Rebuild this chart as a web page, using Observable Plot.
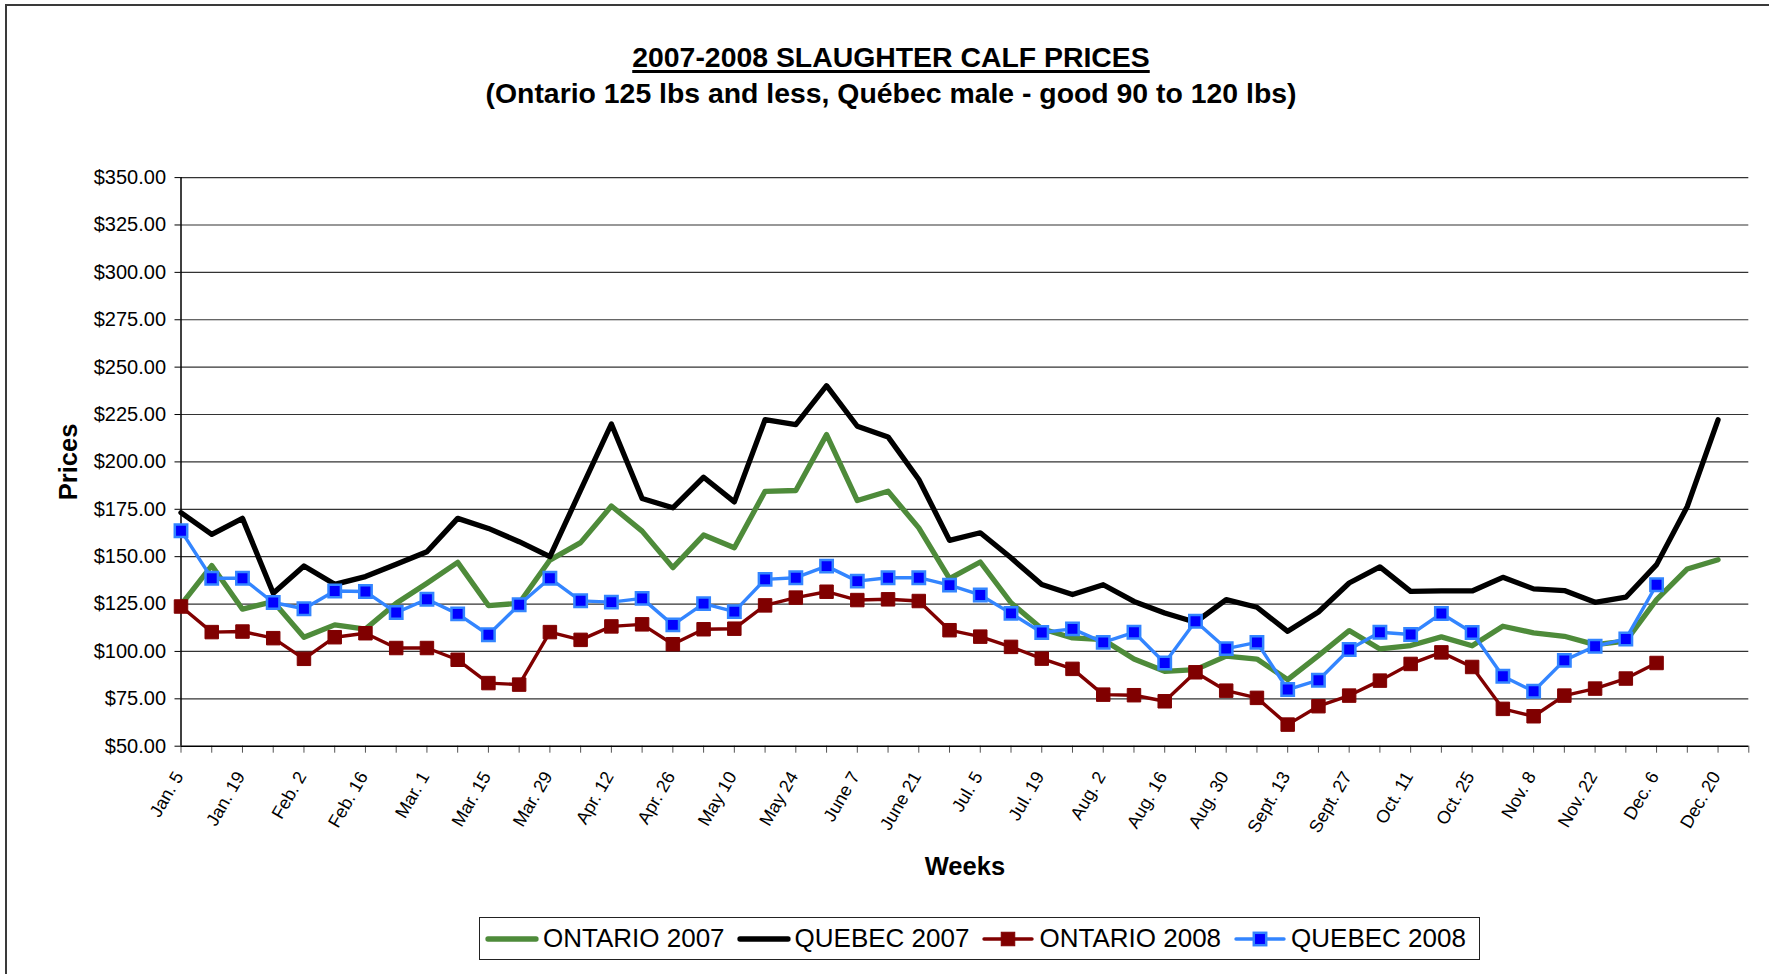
<!DOCTYPE html>
<html>
<head>
<meta charset="utf-8">
<script src="https://cdn.jsdelivr.net/npm/d3@7"></script>
<script src="https://cdn.jsdelivr.net/npm/@observablehq/plot@0.6"></script>
<style>
  body { margin: 0; background: #fff; }
  #chart { position: relative; width: 1769px; height: 974px; overflow: hidden; font-family: "Liberation Sans", Arial, sans-serif; color: #000; }
  #frame { position: absolute; left: 5px; top: 4px; width: 1800px; height: 1000px; border-left: 2px solid #3a3a3a; border-top: 2px solid #3a3a3a; }
  .title { position: absolute; left: 0; width: 1782px; text-align: center; font-weight: bold; font-size: 28.4px; line-height: 28.4px; white-space: nowrap; }
  #t1 { top: 42.7px; text-decoration: underline; text-decoration-thickness: 2.7px; text-underline-offset: 2.5px; }
  #t2 { top: 79px; }
  #plot { position: absolute; left: 0; top: 120px; }
  #legend { position: absolute; left: 479px; top: 917px; width: 1001px; height: 43px; box-sizing: border-box; border: 1.5px solid #222; display: flex; align-items: center; padding-left: 5px; font-size: 26px; white-space: nowrap; background: #fff; }
  .item { display: flex; align-items: center; margin-right: 12px; }
  .item svg { margin-right: 4px; }
</style>
</head>
<body>
<div id="chart">
  <div id="frame"></div>
  <div class="title" id="t1">2007-2008 SLAUGHTER CALF PRICES</div>
  <div class="title" id="t2">(Ontario 125 lbs and less, Québec male - good 90 to 120 lbs)</div>
  <div id="plot"></div>
  <div id="legend"></div>
</div>
<script>
const weeks = ["Jan. 5","Jan. 12","Jan. 19","Jan. 26","Feb. 2","Feb. 9","Feb. 16","Feb. 23",
  "Mar. 1","Mar. 8","Mar. 15","Mar. 22","Mar. 29","Apr. 5","Apr. 12","Apr. 19","Apr. 26",
  "May 3","May 10","May 17","May 24","May 31","June 7","June 14","June 21","June 28",
  "Jul. 5","Jul. 12","Jul. 19","Jul. 26","Aug. 2","Aug. 9","Aug. 16","Aug. 23","Aug. 30",
  "Sept. 6","Sept. 13","Sept. 20","Sept. 27","Oct. 4","Oct. 11","Oct. 18","Oct. 25",
  "Nov. 1","Nov. 8","Nov. 15","Nov. 22","Nov. 29","Dec. 6","Dec. 13","Dec. 20","Dec. 27"];

const ontario2007 = [124.6,145.3,122.3,126.3,107.5,114,111.8,125.4,136,147,124.2,125.4,148.2,157.4,
  176.7,163.5,144.2,161.4,154.7,184.5,184.9,214.4,179.6,184.5,165.2,138.4,147.2,125.7,112,107.1,
  106.2,96,89.5,90.4,97.5,96,85.1,97.8,111,101.3,103.1,107.7,103,113.3,109.8,108,103.6,105.4,
  127.3,143.5,148.4,null];

const quebec2007 = [173.2,161.8,170.2,130.7,145.1,135.4,139.5,146,152.6,170.2,164.9,157.9,150,185.1,
  220,180.7,175.8,191.9,178.9,222.3,219.7,240.2,218.8,213.2,190.7,158.6,162.6,149.4,135.3,130,
  135.2,126.4,120.3,115.4,127.3,123.3,110.6,120.8,136.1,144.6,131.7,131.9,131.9,139.1,133,132.1,
  125.9,128.6,145.8,176.5,222.2,null];

const ontario2008 = [123.7,110.2,110.5,107,96.1,107.5,109.6,101.8,101.8,95.6,83.3,82.5,110.2,106.1,
  113.2,114.3,103.8,111.7,112,124.3,128.4,131.5,127.1,127.5,126.6,111.2,107.8,102.4,96.2,90.8,
  77.2,76.9,73.7,89,79.3,75.5,61.4,71.1,76.7,84.6,93.4,99.5,91.8,69.7,65.8,76.7,80.4,85.7,93.9,
  null,null,null];

const quebec2008 = [163.7,138.6,138.6,125.8,122.5,131.9,131.6,120.5,127.5,119.8,108.8,124.6,138.6,126.7,
  126,128,114,125.2,121,138,138.9,145,137.1,138.9,138.9,135,129.8,120.1,110,111.9,104.8,110.1,
  93.9,115.9,101.5,104.8,79.9,84.8,101,110.1,108.9,120,110,86.9,79,95.3,102.7,106.6,135.2,
  null,null,null];

const priceTicks = [50,75,100,125,150,175,200,225,250,275,300,325,350];
const seriesNames = ["ONTARIO 2007","QUEBEC 2007","ONTARIO 2008","QUEBEC 2008"];
const seriesColors = ["#4e8b3a","#000000","#800000","#3385ff"];
const markerFill = [null, null, "#800000", "#0000ff"];

function rows(values, name) {
  return values.map((v, i) => ({week: weeks[i], price: v, series: name})).filter(d => d.price != null);
}
const dOn07 = rows(ontario2007, seriesNames[0]);
const dQc07 = rows(quebec2007, seriesNames[1]);
const dOn08 = rows(ontario2008, seriesNames[2]);
const dQc08 = rows(quebec2008, seriesNames[3]);

const lineOpts = {x: "week", y: "price", strokeLinejoin: "round", strokeLinecap: "round"};

const chart = Plot.plot({
  width: 1769,
  height: 790,
  marginTop: 57.1,
  marginBottom: 164.3,
  marginLeft: 180.5,
  marginRight: 20.7,
  style: {fontFamily: "'Liberation Sans', Arial, sans-serif", fontSize: "20px", background: "transparent", color: "#000", overflow: "visible"},
  x: {type: "point", domain: weeks, padding: 0},
  y: {domain: [50, 350]},
  marks: [
    Plot.gridY(priceTicks.filter(t => t > 50), {stroke: "#333", strokeOpacity: 1, strokeWidth: 1.2}),
    Plot.axisY(priceTicks, {tickSize: 6, tickPadding: 9, tickFormat: d => "$" + d.toFixed(2), fontSize: 20, stroke: "#000", label: null}),
    Plot.axisX(weeks, {tickSize: 7, stroke: "#555", tickFormat: null, text: null, label: null}),
    Plot.axisX(weeks, {tickSize: 0, tickPadding: 27, tickRotate: -60, fontSize: 18, dx: -2,
      tickFormat: d => weeks.indexOf(d) % 2 === 0 ? d : "", label: null}),
    Plot.ruleY([50], {stroke: "#000", strokeWidth: 1.5}),
    Plot.ruleX([weeks[0]], {stroke: "#000", strokeWidth: 1.5}),
    Plot.line(dOn07, {...lineOpts, stroke: seriesColors[0], strokeWidth: 5.3}),
    Plot.line(dQc07, {...lineOpts, stroke: seriesColors[1], strokeWidth: 5.3}),
    Plot.line(dOn08, {...lineOpts, stroke: seriesColors[2], strokeWidth: 3.4}),
    Plot.dot(dOn08, {x: "week", y: "price", symbol: "square", r: 7.6, fill: markerFill[2], stroke: seriesColors[2], strokeWidth: 1}),
    Plot.line(dQc08, {...lineOpts, stroke: seriesColors[3], strokeWidth: 3.4}),
    Plot.dot(dQc08, {x: "week", y: "price", symbol: "square", r: 7.0, fill: markerFill[3], stroke: seriesColors[3], strokeWidth: 2.5}),
    Plot.text(["Weeks"], {text: d => d, frameAnchor: "bottom", dy: 121, lineAnchor: "middle", textAnchor: "middle", fontSize: 25.5, fontWeight: "bold"}),
    Plot.text(["Prices"], {text: d => d, frameAnchor: "left", dx: -112.5, rotate: -90, textAnchor: "middle", lineAnchor: "middle", fontSize: 25.5, fontWeight: "bold"})
  ]
});
document.getElementById("plot").appendChild(chart);

// Legend
const legend = document.getElementById("legend");
seriesNames.forEach((name, i) => {
  const item = document.createElement("div");
  item.className = "item";
  const ns = "http://www.w3.org/2000/svg";
  const svg = document.createElementNS(ns, "svg");
  svg.setAttribute("width", 54);
  svg.setAttribute("height", 22);
  const ln = document.createElementNS(ns, "line");
  ln.setAttribute("x1", 3); ln.setAttribute("x2", 51);
  ln.setAttribute("y1", 11); ln.setAttribute("y2", 11);
  ln.setAttribute("stroke", seriesColors[i]);
  ln.setAttribute("stroke-width", markerFill[i] ? 3.4 : 5.3);
  ln.setAttribute("stroke-linecap", "round");
  svg.appendChild(ln);
  if (markerFill[i]) {
    const s = i === 3 ? 12.4 : 13.5;
    const rc = document.createElementNS(ns, "rect");
    rc.setAttribute("x", 27 - s / 2); rc.setAttribute("y", 11 - s / 2);
    rc.setAttribute("width", s); rc.setAttribute("height", s);
    rc.setAttribute("fill", markerFill[i]);
    rc.setAttribute("stroke", seriesColors[i]);
    rc.setAttribute("stroke-width", i === 3 ? 2.5 : 1);
    svg.appendChild(rc);
  }
  item.appendChild(svg);
  const t = document.createElement("span");
  t.textContent = name;
  item.appendChild(t);
  legend.appendChild(item);
});
</script>
</body>
</html>
